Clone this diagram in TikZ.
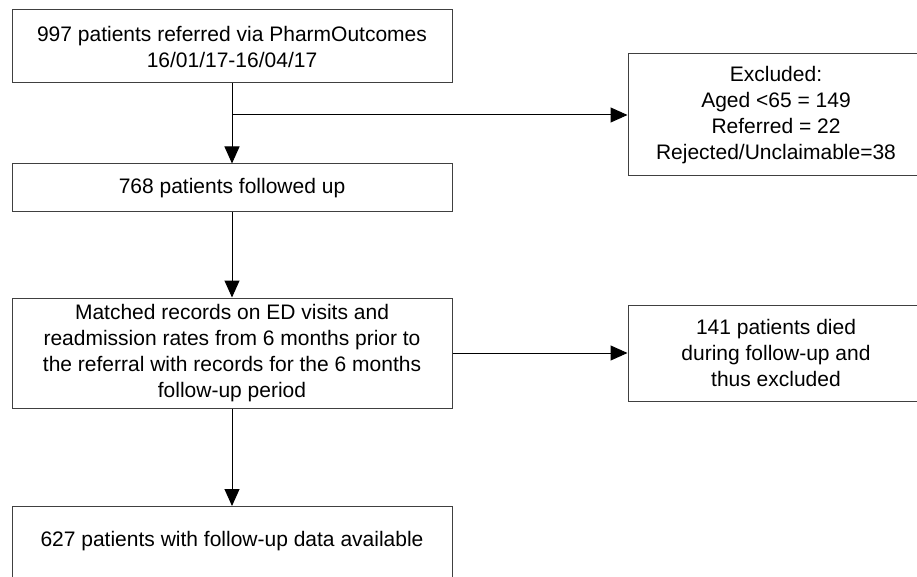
\documentclass[tikz,border=0pt]{standalone}
\usepackage{fontspec}
\setmainfont{Liberation Sans}
\usetikzlibrary{arrows.meta}

\begin{document}
\begin{tikzpicture}[
    x=1pt, y=-1pt,
    font=\fontsize{21}{26}\selectfont,
    align=center,
	box/.style={
	  rectangle,
	  inner sep=0pt,
	  minimum width=440pt,
	  line width=1pt,
	  draw=black!75
	},
	sidebox/.style={
	  box,
	  minimum width=296pt
	},
 	line/.style={draw, line width=1pt, -{Triangle[width=15pt,length=17pt]}}
	]
	\useasboundingbox (0, 0) rectangle (917, 577);
	\node at (232, 46.5) [box, minimum height=73pt] (refer) {997 patients referred via PharmOutcomes\\16/01/17-16/04/17};
	\node at (232, 188) [box, minimum height=48pt] (followed) {768 patients followed up};
	\node at (776, 115) [sidebox, minimum height=122pt] (excl) {Excluded:\\Aged <65 = 149\\Referred = 22\\Rejected/Unclaimable=38};
	\node at (776, 353) [sidebox, minimum height=96pt] (died) {141 patients died\\during follow-up and\\thus excluded};
	\node at (232, 353) [box, minimum height=110pt] (matched) {Matched records on ED visits and\\readmission rates from 6 months prior to\\the referral with records for the 6 months\\follow-up period};
	\node at (232, 506) [box, anchor=north, inner ysep=24.5pt, text height=15pt, text depth=20pt] (final) {627 patients with follow-up data available};
	\coordinate (branch) at (refer.south |- excl.west);
	\path [line] (refer) -- (followed);
	\path [line] (branch) -- (excl.west);
	\path [line] (followed) -- (matched);
	\path [line] (matched) -- (died);
	\path [line] (matched) -- (final);
  \end{tikzpicture}
\end{document}
